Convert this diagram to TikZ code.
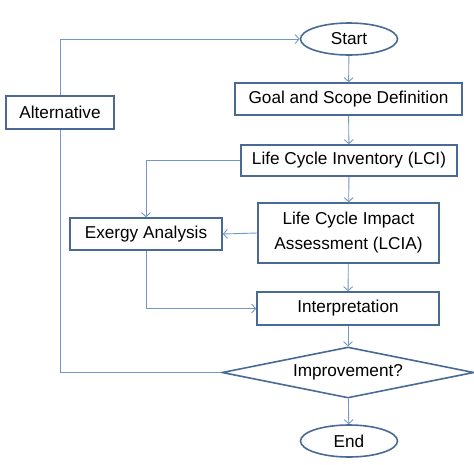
\documentclass[tikz,border=0pt]{standalone}
\usepackage{fontspec}
\setmainfont{Liberation Sans}
\usetikzlibrary{shapes.geometric,arrows.meta}
\definecolor{boxc}{HTML}{4A6A96}
\definecolor{linec}{HTML}{7397C8}
\tikzset{
  base/.style={draw=boxc, line width=1.6pt, inner sep=0pt, font=\fontsize{17.2}{25}\selectfont, text=black, align=center},
  rbox/.style={base, rectangle},
  oval/.style={base, ellipse, minimum width=97pt, minimum height=32pt},
  dec/.style={base, diamond, shape aspect=4.94, minimum width=252pt, minimum height=51pt},
  conn/.style={draw=linec, line width=0.9pt, -{Straight Barb[length=4pt,width=9pt]}},
  plain/.style={draw=linec, line width=0.9pt}
}
\begin{document}
\begin{tikzpicture}[x=1pt,y=-1pt]
\useasboundingbox (0,0) rectangle (474,464);
\node[oval] (start) at (349,39) {Start};
\node[rbox, minimum width=227pt, minimum height=32pt] (goal) at (348.5,99) {Goal and Scope Definition};
\node[rbox, minimum width=216pt, minimum height=31pt] (lci) at (349,160.5) {Life Cycle Inventory (LCI)};
\node[rbox, minimum width=181pt, minimum height=60pt] (lcia) at (348.5,233) {Life Cycle Impact\\Assessment (LCIA)};
\node[rbox, minimum width=182pt, minimum height=33pt] (interp) at (348,308.5) {Interpretation};
\node[dec] (imp) at (348,372.5) {Improvement?};
\node[oval] (end) at (349,441) {End};
\node[rbox, minimum width=108pt, minimum height=33pt] (alt) at (60,112.5) {Alternative};
\node[rbox, minimum width=152pt, minimum height=32pt] (exe) at (146,234) {Exergy Analysis};
\coordinate (c1) at (60,39);
\coordinate (c2) at (146,160.5);
\coordinate (c3) at (146,308.5);
\coordinate (c4) at (60,372.5);
\draw[conn] (alt.north) -- (c1) -- (start.west);
\draw[conn] (start) -- (goal);
\draw[conn] (goal) -- (lci);
\draw[conn] (lci.west) -- (c2) -- (exe.north);
\draw[conn] (lci) -- (lcia);
\draw[conn] (lcia.west) -- (exe.east);
\draw[conn] (exe.south) -- (c3) -- (interp.west);
\draw[conn] (lcia) -- (interp);
\draw[conn] (interp) -- (imp);
\draw[plain] (imp.west) -- (c4) -- (alt.south);
\draw[conn] (imp) -- (end);
\end{tikzpicture}
\end{document}
